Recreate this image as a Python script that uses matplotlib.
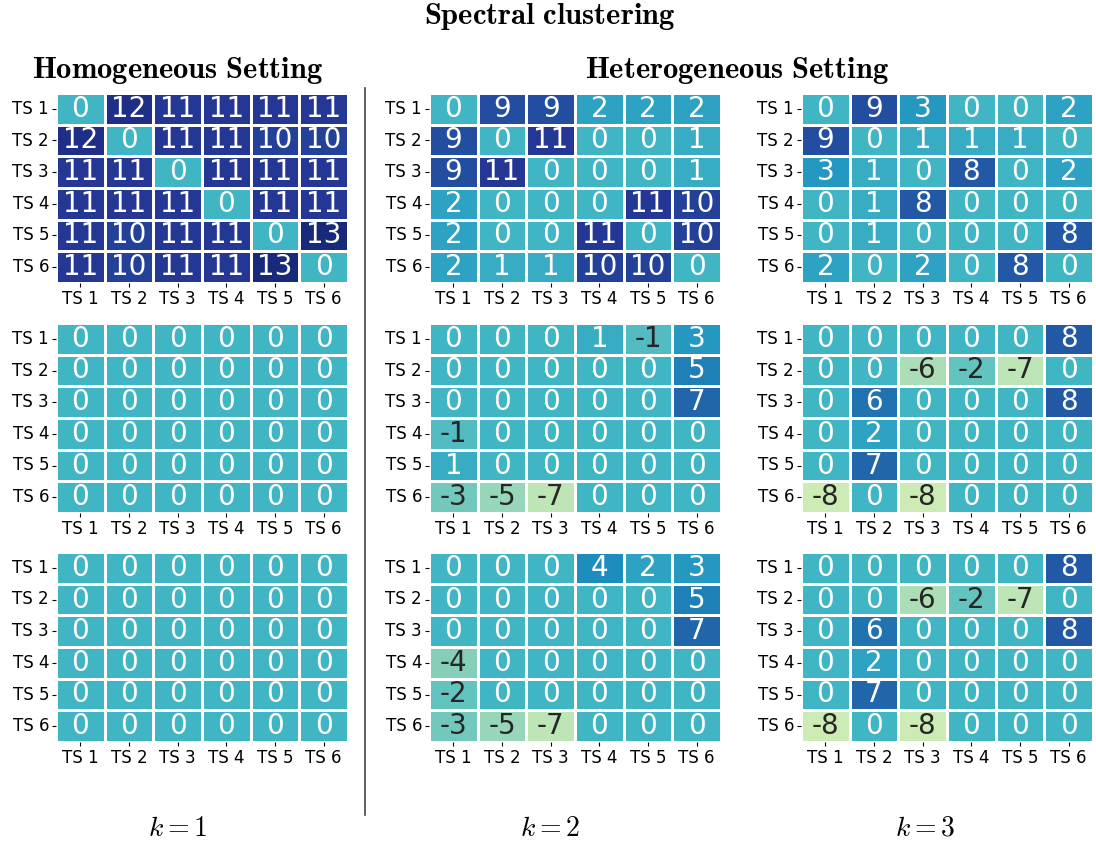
import matplotlib
matplotlib.use("Agg")
import matplotlib.pyplot as plt
import numpy as np
import seaborn as sns

plt.rcParams['mathtext.fontset'] = 'cm'

labels = ["TS 1", "TS 2", "TS 3", "TS 4", "TS 5", "TS 6"]

# k = 1 (homogeneous setting)
homo_top = [[0, 12, 11, 11, 11, 11],
            [12, 0, 11, 11, 10, 10],
            [11, 11, 0, 11, 11, 11],
            [11, 11, 11, 0, 11, 11],
            [11, 10, 11, 11, 0, 13],
            [11, 10, 11, 11, 13, 0]]
homo_mid = [[0] * 6 for _ in range(6)]
homo_bot = [[0] * 6 for _ in range(6)]

# k = 2 (heterogeneous setting)
het2_top = [[0, 9, 9, 2, 2, 2],
            [9, 0, 11, 0, 0, 1],
            [9, 11, 0, 0, 0, 1],
            [2, 0, 0, 0, 11, 10],
            [2, 0, 0, 11, 0, 10],
            [2, 1, 1, 10, 10, 0]]
het2_mid = [[0, 0, 0, 1, -1, 3],
            [0, 0, 0, 0, 0, 5],
            [0, 0, 0, 0, 0, 7],
            [-1, 0, 0, 0, 0, 0],
            [1, 0, 0, 0, 0, 0],
            [-3, -5, -7, 0, 0, 0]]
het2_bot = [[0, 0, 0, 4, 2, 3],
            [0, 0, 0, 0, 0, 5],
            [0, 0, 0, 0, 0, 7],
            [-4, 0, 0, 0, 0, 0],
            [-2, 0, 0, 0, 0, 0],
            [-3, -5, -7, 0, 0, 0]]

# k = 3 (heterogeneous setting)
het3_top = [[0, 9, 3, 0, 0, 2],
            [9, 0, 1, 1, 1, 0],
            [3, 1, 0, 8, 0, 2],
            [0, 1, 8, 0, 0, 0],
            [0, 1, 0, 0, 0, 8],
            [2, 0, 2, 0, 8, 0]]
het3_mid = [[0, 0, 0, 0, 0, 8],
            [0, 0, -6, -2, -7, 0],
            [0, 6, 0, 0, 0, 8],
            [0, 2, 0, 0, 0, 0],
            [0, 7, 0, 0, 0, 0],
            [-8, 0, -8, 0, 0, 0]]
het3_bot = [[0, 0, 0, 0, 0, 8],
            [0, 0, -6, -2, -7, 0],
            [0, 6, 0, 0, 0, 8],
            [0, 2, 0, 0, 0, 0],
            [0, 7, 0, 0, 0, 0],
            [-8, 0, -8, 0, 0, 0]]

grid = [[homo_top, het2_top, het3_top],
        [homo_mid, het2_mid, het3_mid],
        [homo_bot, het2_bot, het3_bot]]

W, H = 1096, 843
fig = plt.figure(figsize=(W / 100, H / 100), dpi=100)

col_left = [56, 429, 801]
row_top = [93, 323, 552]
aw, ah = 292, 190

for r in range(3):
    for c in range(3):
        ax = fig.add_axes([col_left[c] / W, 1 - (row_top[r] + ah) / H, aw / W, ah / H])
        sns.heatmap(np.array(grid[r][c]), ax=ax, cmap="YlGnBu", vmin=-15, vmax=15,
                    annot=True, fmt="d", annot_kws={"size": 20},
                    linewidths=0.8, linecolor="white", cbar=False,
                    xticklabels=labels, yticklabels=labels)
        ax.tick_params(axis='both', labelsize=12, length=3, width=0.8, pad=2)
        ax.set_yticklabels(labels, rotation=0)
        ax.set_xticklabels(labels, rotation=0)

# titles
fig.text(550 / W, 1 - 17 / H, r"$\mathbf{Spectral\ clustering}$", ha='center', va='center', fontsize=22)
fig.text(178 / W, 1 - 70 / H, r"$\mathbf{Homogeneous\ Setting}$", ha='center', va='center', fontsize=22)
fig.text(737 / W, 1 - 70 / H, r"$\mathbf{Heterogeneous\ Setting}$", ha='center', va='center', fontsize=22)

for x, k in zip([178, 550, 925], [1, 2, 3]):
    fig.text(x / W, 1 - 828 / H, rf"$k={k}$", ha='center', va='center', fontsize=20)

# separator between settings
fig.add_artist(plt.Line2D([365 / W, 365 / W], [1 - 88 / H, 1 - 815 / H], color='#444444', linewidth=1.2))

fig.savefig("out.png", dpi=100)
